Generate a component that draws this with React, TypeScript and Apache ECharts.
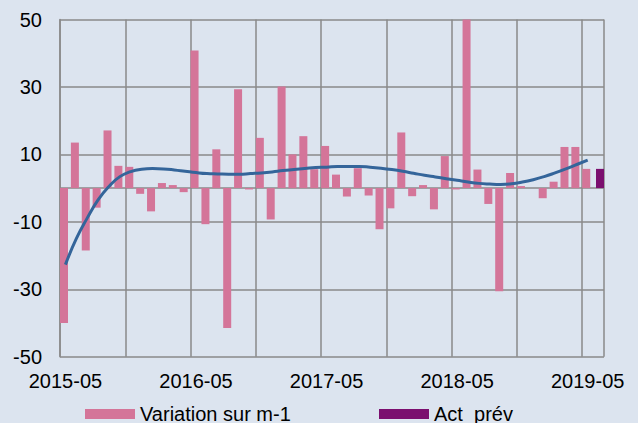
import React, { useEffect, useRef } from "react";
import * as echarts from "echarts";

const startYear = 2015;
const startMonth = 5;
const monthCount = 50;
const categories: string[] = [];
for (let i = 0; i < monthCount; i++) {
  const m = startMonth - 1 + i;
  const y = startYear + Math.floor(m / 12);
  const mm = (m % 12) + 1;
  categories.push(`${y}-${mm < 10 ? "0" + mm : mm}`);
}

const variation: (number | null)[] = [
  -40, 13.5, -18.5, -5.8, 17.1, 6.6, 6.3, -1.7,
  -6.9, 1.5, 0.9, -1.2, 40.8, -10.7, 11.5, -41.5, 29.3, -0.4, 14.9, -9.3,
  30.1, 10.0, 15.4, 5.6, 12.5, 4.0, -2.5, 5.9, -2.2, -12.2, -6.0, 16.5,
  -2.4, 0.9, -6.3, 9.5, -0.4, 52, 5.5, -4.7, -30.6, 4.5, 0.6, 0,
  -3.0, 1.9, 12.2, 12.2, 5.7, null,
];

const actPrev: (number | null)[] = [
  null, null, null, null, null, null, null, null, null, null,
  null, null, null, null, null, null, null, null, null, null,
  null, null, null, null, null, null, null, null, null, null,
  null, null, null, null, null, null, null, null, null, null,
  null, null, null, null, null, null, null, null, null, 5.7,
];

const trend: (number | null)[] = [
  -22.7, -15, -8.9, -3.5, 0.5, 3.4, 4.9, 5.6,
  5.8, 5.7, 5.4, 5.0, 4.6, 4.3, 4.2, 4.1, 4.1, 4.3, 4.5, 4.8,
  5.2, 5.5, 5.8, 6.1, 6.2, 6.4, 6.4, 6.4, 6.2, 5.9, 5.5, 5.0,
  4.4, 3.8, 3.3, 2.8, 2.3, 1.8, 1.4, 1.2, 1.1, 1.3, 1.8, 2.5,
  3.4, 4.5, 5.7, 7.0, 8.3, null,
];

const yTicks = [-50, -30, -10, 0, 10, 30, 50];
const yLabels = [-50, -30, -10, 10, 30, 50];

const FONT = "'Liberation Sans', Arial, sans-serif";
const GRID_COLOR = "#8a8a8a";

export default function App() {
  const ref = useRef<HTMLDivElement>(null);
  useEffect(() => {
    if (!ref.current) return;
    const chart = echarts.init(ref.current, undefined, { renderer: "svg" });
    const legendText = { fontSize: 20, lineHeight: 14, color: "#000", fontFamily: FONT };
    chart.setOption({
      animation: false,
      backgroundColor: "#dce4ef",
      textStyle: { fontFamily: FONT },
      grid: { left: 60, right: 34, top: 19.5, bottom: 66.3, containLabel: false },
      legend: [
        {
          data: ["Variation sur m-1"],
          left: 85,
          top: 404,
          padding: 0,
          icon: "rect",
          itemWidth: 50,
          itemHeight: 10,
          textStyle: legendText,
        },
        {
          data: ["Act  prév"],
          left: 379,
          top: 404,
          padding: 0,
          icon: "rect",
          itemWidth: 50,
          itemHeight: 10,
          textStyle: legendText,
        },
      ],
      xAxis: {
        type: "category",
        data: categories,
        boundaryGap: true,
        axisLine: { onZero: false, show: false },
        axisTick: { show: false },
        axisLabel: {
          interval: 11,
          showMinLabel: true,
          hideOverlap: false,
          fontSize: 20,
          color: "#000",
          margin: 14,
          fontFamily: FONT,
        },
        splitLine: {
          show: true,
          interval: 5,
          lineStyle: { color: GRID_COLOR, width: 1.5 },
        },
      },
      yAxis: {
        type: "value",
        min: -50,
        max: 50,
        axisLine: { show: true, lineStyle: { color: GRID_COLOR, width: 1.5 } },
        axisTick: { show: false, customValues: yTicks },
        axisLabel: {
          customValues: yLabels,
          fontSize: 20,
          color: "#000",
          margin: 18,
          fontFamily: FONT,
        },
        splitLine: { show: true, lineStyle: { color: GRID_COLOR, width: 1.5 } },
      },
      series: [
        {
          name: "Variation sur m-1",
          type: "bar",
          data: variation,
          barWidth: 8,
          barGap: "-64%",
          itemStyle: { color: "#d47599" },
          clip: true,
        },
        {
          name: "Act  prév",
          type: "bar",
          data: actPrev,
          barWidth: 8,
          barGap: "-64%",
          itemStyle: { color: "#7b0f6f" },
          clip: true,
        },
        {
          name: "Tendance",
          type: "line",
          data: trend,
          smooth: true,
          symbol: "none",
          lineStyle: { color: "#34659a", width: 3 },
          z: 5,
        },
      ],
    });
    return () => chart.dispose();
  }, []);
  return (
    <div
      ref={ref}
      style={{ position: "fixed", left: 0, top: 0, width: 638, height: 423 }}
    />
  );
}
